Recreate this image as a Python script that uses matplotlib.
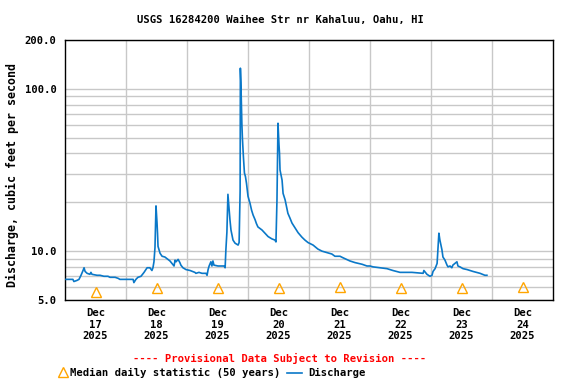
import numpy as np
from matplotlib import pyplot as plt
from matplotlib.lines import Line2D
from matplotlib.ticker import FixedLocator, NullFormatter

TITLE = "USGS 16284200 Waihee Str nr Kahaluu, Oahu, HI"
YLABEL = "Discharge, cubic feet per second"

# hours since Dec 17 2025 00:00 and discharge (cfs)
hours = [0.4, 3.1, 3.5, 4.7, 5.5, 6.3, 7.1, 7.5, 7.9, 8.7, 9.8, 10.2, 10.6, 12.6,
         13.8, 15.3, 16.9, 17.7, 19.7, 20.9, 21.6, 26.8, 27.1, 27.9, 28.7, 29.9,
         31.1, 32.3, 33.4, 34.2, 34.6, 35.0, 35.4, 35.8, 36.2, 36.4, 36.6, 37.4,
         38.2, 39.3, 40.1, 41.3, 42.1, 42.9, 43.3, 43.7, 44.5, 45.2, 45.6, 46.4,
         47.6, 49.2, 51.1, 51.5, 52.7, 53.9, 55.5, 55.9, 56.3, 56.7, 57.4, 57.8,
         58.2, 58.6, 60.2, 62.6, 63.0, 63.3, 63.7, 64.1, 64.5, 64.9, 65.3, 65.7,
         66.1, 66.9, 68.1, 68.5, 68.9, 69.0, 69.2, 69.6, 69.8, 70.2, 70.6, 71.0,
         71.4, 72.0, 72.8, 73.4, 74.0, 74.8, 75.3, 75.9, 77.5, 78.7, 79.9, 81.4,
         82.6, 83.0, 83.4, 83.8, 84.2, 84.4, 84.6, 85.4, 85.8, 86.6, 87.3, 87.7,
         88.5, 89.3, 90.5, 91.7, 93.2, 94.4, 95.6, 97.6, 99.5, 101.1, 103.1,
         105.0, 106.2, 108.2, 109.4, 112.1, 114.1, 116.9, 118.8, 120.0, 121.2,
         123.9, 126.7, 129.0, 131.8, 136.5, 140.9, 141.2, 142.4, 143.6, 144.4,
         144.8, 145.6, 146.4, 146.8, 147.1, 147.5, 148.3, 148.7, 149.5, 150.3,
         150.7, 151.5, 152.2, 152.6, 153.4, 154.2, 154.6, 155.4, 156.6, 158.2,
         159.3, 160.5, 163.3, 165.2, 166.0]
discharge = [6.7, 6.7, 6.5, 6.6, 6.7, 7.1, 7.6, 7.9, 7.5, 7.3, 7.2, 7.4, 7.2, 7.1,
             7.1, 7.0, 7.0, 6.9, 6.9, 6.8, 6.7, 6.7, 6.4, 6.7, 6.9, 7.0,
             7.4, 7.9, 7.9, 7.6, 7.9, 8.6, 10.5, 19.0, 15.0, 12.9, 10.7, 9.7,
             9.3, 9.2, 9.0, 8.7, 8.4, 8.1, 8.8, 8.6, 8.9, 8.5, 8.2, 7.9,
             7.7, 7.6, 7.4, 7.3, 7.4, 7.3, 7.3, 7.1, 7.7, 8.1, 8.6, 8.1,
             8.7, 8.2, 8.1, 8.1, 7.9, 10.2, 13.1, 22.4, 18.8, 15.6, 13.5, 12.6,
             11.7, 11.2, 10.9, 11.3, 23.5, 134.0, 110.0, 60.0, 49.6, 38.0, 30.3, 28.8,
             26.2, 21.8, 19.7, 17.9, 16.7, 15.6, 14.8, 14.1, 13.5, 12.9, 12.3, 11.9,
             11.7, 11.4, 20.7, 61.4, 45.0, 40.0, 31.6, 27.4, 22.7, 20.7, 18.4, 17.1,
             16.0, 14.9, 13.9, 13.0, 12.2, 11.7, 11.3, 10.9, 10.3, 10.0, 9.8,
             9.6, 9.3, 9.3, 9.1, 8.7, 8.5, 8.3, 8.1, 8.1, 8.0,
             7.9, 7.8, 7.6, 7.4, 7.4, 7.3, 7.6, 7.2, 7.0, 7.1,
             7.5, 7.8, 8.4, 10.9, 12.9, 11.7, 10.2, 9.2, 8.8, 8.2,
             8.0, 8.1, 7.9, 8.2, 8.4, 8.6, 8.1, 8.0, 7.8, 7.7,
             7.6, 7.5, 7.3, 7.1, 7.1]

# daily median statistic at noon
median_hours = [12, 36, 60, 84, 108, 132, 156, 180]
median_values = [5.6, 5.9, 5.9, 5.9, 6.0, 5.9, 5.9, 6.0]

day_labels = ["Dec\n17\n2025", "Dec\n18\n2025", "Dec\n19\n2025", "Dec\n20\n2025",
              "Dec\n21\n2025", "Dec\n22\n2025", "Dec\n23\n2025", "Dec\n24\n2025"]

FONT = "DejaVu Sans Mono"
LINE_COLOR = "#0a78c8"
MED_COLOR = "#ffa500"
GRID_COLOR = "#c8c8c8"

plt.rcParams['font.family'] = FONT
plt.rcParams['font.weight'] = 'bold'

fig = plt.figure(figsize=(5.76, 3.84), dpi=100)
ax = fig.add_axes([65 / 576, 1 - 300 / 384, 488 / 576, 260 / 384])

ax.plot(hours, discharge, color=LINE_COLOR, lw=1.2, zorder=3)
ax.plot(median_hours, median_values, linestyle='none', marker='^', ms=7,
        mfc='none', mec=MED_COLOR, mew=1.0, zorder=4)

ax.set_yscale('log')
ax.set_ylim(5, 200)
ax.set_xlim(0, 192)

ax.yaxis.set_major_locator(FixedLocator([5, 10, 100, 200]))
ax.yaxis.set_major_formatter(lambda v, p: "%.1f" % v)
ax.yaxis.set_minor_locator(FixedLocator([6, 7, 8, 9, 20, 30, 40, 50, 60, 70, 80, 90]))
ax.yaxis.set_minor_formatter(NullFormatter())

ax.xaxis.set_major_locator(FixedLocator(median_hours))
ax.set_xticklabels(day_labels, linespacing=1.15)
ax.xaxis.set_minor_locator(FixedLocator(np.arange(24, 192, 24)))

ax.tick_params(which='both', length=0, labelsize=7.6, pad=6)
ax.grid(True, axis='y', which='both', color=GRID_COLOR, lw=1.0, zorder=0)
ax.grid(True, axis='x', which='minor', color=GRID_COLOR, lw=1.0, zorder=0)
ax.set_axisbelow(True)
for s in ax.spines.values():
    s.set_linewidth(1.0)

fig.text(280 / 576, 1 - 20 / 384, TITLE, ha='center', va='center', fontsize=7.6)
fig.text(12 / 576, 1 - 175 / 384, YLABEL, rotation=90, ha='center', va='center',
         fontsize=8.4)
fig.text(280 / 576, 1 - 358 / 384, "---- Provisional Data Subject to Revision ----",
         ha='center', va='center', fontsize=7.6, color='red')

# legend row
fig.add_artist(Line2D([63 / 576], [1 - 372 / 384], marker='^', ms=7, mfc='none',
                      mec=MED_COLOR, mew=1.0, linestyle='none'))
fig.text(70 / 576, 1 - 373 / 384, "Median daily statistic (50 years)", ha='left',
         va='center', fontsize=7.6)
fig.add_artist(Line2D([287 / 576, 302 / 576], [1 - 373 / 384, 1 - 373 / 384],
                      color=LINE_COLOR, lw=1.2))
fig.text(308 / 576, 1 - 373 / 384, "Discharge", ha='left', va='center', fontsize=7.6)

plt.savefig("out.png", dpi=100)
plt.close()
